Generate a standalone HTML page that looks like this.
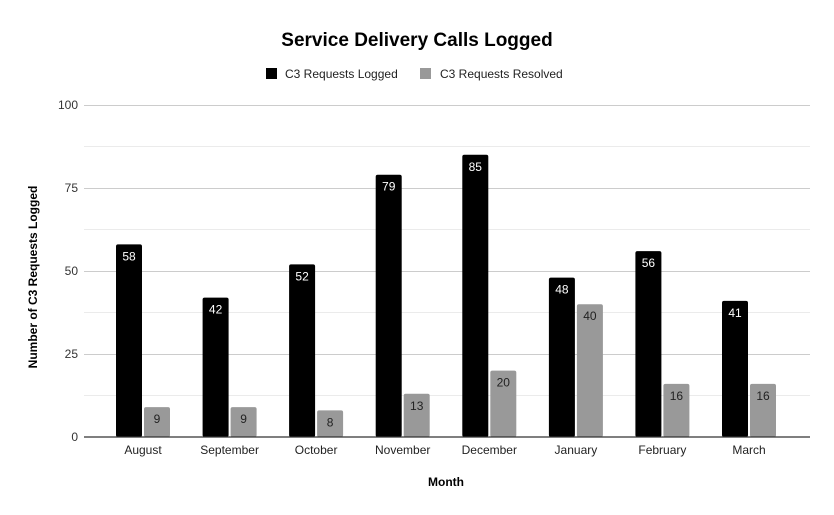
<!DOCTYPE html>
<html><head><style>body{margin:0;background:#fff}svg{display:block}text{font-family:"Liberation Sans",Arial,sans-serif}</style></head>
<body>
<svg width="834" height="515" xmlns="http://www.w3.org/2000/svg">
<rect width="834" height="515" fill="#fff"/>
<text x="417" y="46" text-anchor="middle" font-size="19" font-weight="bold" fill="#000">Service Delivery Calls Logged</text>
<rect x="266" y="68" width="11" height="11" fill="#000"/>
<text x="285" y="78" font-size="12" fill="#222">C3 Requests Logged</text>
<rect x="420" y="68" width="11" height="11" fill="#999"/>
<text x="440" y="78" font-size="12" fill="#222">C3 Requests Resolved</text>
<g stroke-width="1">
<line x1="84" x2="810" y1="105.5" y2="105.5" stroke="#ccc"/>
<line x1="84" x2="810" y1="146.5" y2="146.5" stroke="#ebebeb"/>
<line x1="84" x2="810" y1="188.5" y2="188.5" stroke="#ccc"/>
<line x1="84" x2="810" y1="229.5" y2="229.5" stroke="#ebebeb"/>
<line x1="84" x2="810" y1="271.5" y2="271.5" stroke="#ccc"/>
<line x1="84" x2="810" y1="312.5" y2="312.5" stroke="#ebebeb"/>
<line x1="84" x2="810" y1="354.5" y2="354.5" stroke="#ccc"/>
<line x1="84" x2="810" y1="395.5" y2="395.5" stroke="#ebebeb"/>
</g>
<g font-size="12" fill="#333" text-anchor="end">
<text x="78" y="109">100</text><text x="78" y="192">75</text><text x="78" y="275">50</text><text x="78" y="358">25</text><text x="78" y="441">0</text>
</g>
<text transform="translate(37,277) rotate(-90)" text-anchor="middle" font-size="12" font-weight="bold">Number of C3 Requests Logged</text>
<text x="446" y="486" text-anchor="middle" font-size="12" font-weight="bold">Month</text>
<g>
<rect x="116" y="244.4" width="26" height="192.6" rx="2" fill="#000"/>
<rect x="144" y="407.1" width="26" height="29.9" rx="2" fill="#999"/>
<rect x="202.6" y="297.6" width="26" height="139.4" rx="2" fill="#000"/>
<rect x="230.6" y="407.1" width="26" height="29.9" rx="2" fill="#999"/>
<rect x="289.1" y="264.4" width="26" height="172.6" rx="2" fill="#000"/>
<rect x="317.1" y="410.4" width="26" height="26.6" rx="2" fill="#999"/>
<rect x="375.7" y="174.7" width="26" height="262.3" rx="2" fill="#000"/>
<rect x="403.7" y="393.8" width="26" height="43.2" rx="2" fill="#999"/>
<rect x="462.3" y="154.8" width="26" height="282.2" rx="2" fill="#000"/>
<rect x="490.3" y="370.6" width="26" height="66.4" rx="2" fill="#999"/>
<rect x="548.9" y="277.6" width="26" height="159.4" rx="2" fill="#000"/>
<rect x="576.9" y="304.2" width="26" height="132.8" rx="2" fill="#999"/>
<rect x="635.4" y="251.1" width="26" height="185.9" rx="2" fill="#000"/>
<rect x="663.4" y="383.9" width="26" height="53.1" rx="2" fill="#999"/>
<rect x="722" y="300.9" width="26" height="136.1" rx="2" fill="#000"/>
<rect x="750" y="383.9" width="26" height="53.1" rx="2" fill="#999"/>
</g>
<g font-size="12" text-anchor="middle" fill="#fff">
<text x="129" y="260.4">58</text>
<text x="215.6" y="313.6">42</text>
<text x="302.1" y="280.4">52</text>
<text x="388.7" y="190.7">79</text>
<text x="475.3" y="170.8">85</text>
<text x="561.9" y="293.6">48</text>
<text x="648.4" y="267.1">56</text>
<text x="735" y="316.9">41</text>
</g>
<g font-size="12" text-anchor="middle" fill="#222">
<text x="157" y="423.1">9</text>
<text x="243.6" y="423.1">9</text>
<text x="330.1" y="426.4">8</text>
<text x="416.7" y="409.8">13</text>
<text x="503.3" y="386.6">20</text>
<text x="589.9" y="320.2">40</text>
<text x="676.4" y="399.9">16</text>
<text x="763" y="399.9">16</text>
</g>
<g font-size="12" text-anchor="middle" fill="#222">
<text x="143" y="454">August</text>
<text x="229.6" y="454">September</text>
<text x="316.1" y="454">October</text>
<text x="402.7" y="454">November</text>
<text x="489.3" y="454">December</text>
<text x="575.9" y="454">January</text>
<text x="662.4" y="454">February</text>
<text x="749" y="454">March</text>
</g>
<line x1="84" x2="810" y1="437" y2="437" stroke="#333" stroke-width="1.3"/>
</svg>
</body></html>
